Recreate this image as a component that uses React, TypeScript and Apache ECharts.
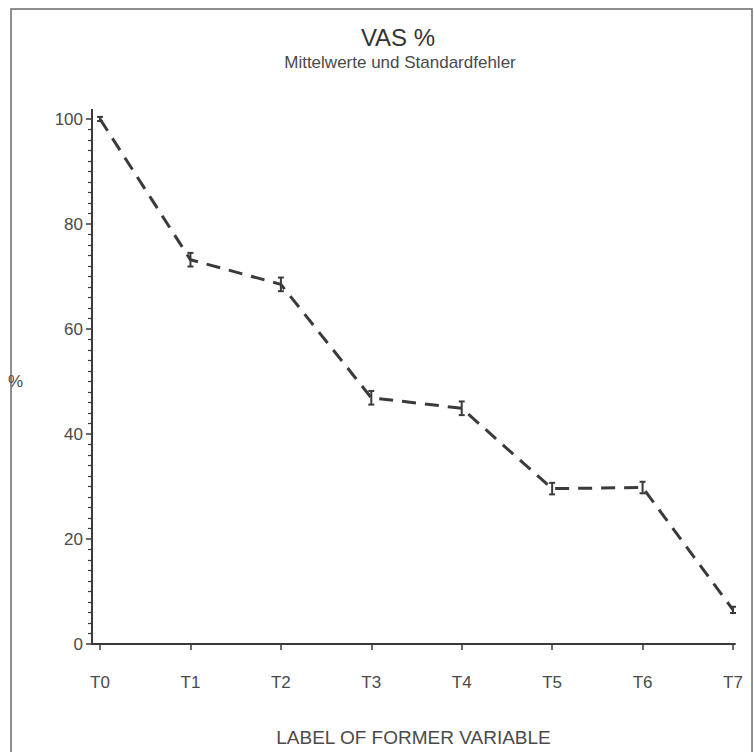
import React, { useEffect, useRef } from "react";
import * as echarts from "echarts";

const categories = ["T0", "T1", "T2", "T3", "T4", "T5", "T6", "T7"];
const positions = [0, 1, 2, 3, 4, 5, 6, 7];
const means = [100, 73.2, 68.5, 46.9, 44.9, 29.6, 29.8, 6.5];
const stdErrors = [0.4, 1.3, 1.3, 1.3, 1.3, 1.1, 1.1, 0.6];
const yTicks = [0, 20, 40, 60, 80, 100];

const FONT = "'Liberation Sans', Arial, sans-serif";
const TEXT = "#4a4a4a";
const INK = "#3a3a3a";
const X_MIN = -0.0885;
const X_MAX = 7.022;

export default function App() {
  const ref = useRef<HTMLDivElement>(null);

  useEffect(() => {
    if (!ref.current) return;
    const chart = echarts.init(ref.current, undefined, { renderer: "svg" });

    const lineData = positions.map((x, i) => [x, means[i]]);
    const errData = positions.map((x, i) => [x, means[i] - stdErrors[i], means[i] + stdErrors[i]]);
    const frame = {
      type: "rect",
      shape: { x: 11, y: 9, width: 741, height: 770 },
      style: { fill: "none", stroke: "#6a6a6a", lineWidth: 1.5 },
      silent: true,
    };

    chart.setOption({
      animation: false,
      backgroundColor: "#ffffff",
      title: [
        {
          text: "VAS %",
          left: 393,
          top: 20,
          textAlign: "center",
          textStyle: { fontFamily: FONT, fontSize: 24, fontWeight: "normal", color: "#333" },
        },
        {
          text: "Mittelwerte und Standardfehler",
          left: 395,
          top: 49,
          textAlign: "center",
          textStyle: { fontFamily: FONT, fontSize: 17, fontWeight: "normal", color: TEXT },
        },
      ],
      grid: { left: 92, right: 19, top: 119, bottom: 98, containLabel: false },
      xAxis: {
        type: "value",
        min: X_MIN,
        max: X_MAX,
        splitLine: { show: false },
        axisLine: { show: true, onZero: false, lineStyle: { color: INK, width: 2 } },
        axisTick: {
          show: true,
          customValues: positions,
          length: 6,
          lineStyle: { color: INK, width: 1.5 },
        },
        axisLabel: {
          customValues: positions,
          formatter: (v: number) => categories[Math.round(v)] ?? "",
          margin: 30,
          fontFamily: FONT,
          fontSize: 17,
          color: TEXT,
        },
        name: "LABEL OF FORMER VARIABLE",
        nameLocation: "middle",
        nameGap: 84,
        nameTextStyle: { fontFamily: FONT, fontSize: 19, color: TEXT },
      },
      yAxis: {
        type: "value",
        min: 0,
        max: 100,
        interval: 20,
        splitLine: { show: false },
        axisLine: { show: true, onZero: false, lineStyle: { color: INK, width: 2 } },
        axisTick: { show: true, length: 6, lineStyle: { color: INK, width: 1.5 } },
        minorTick: { show: true, splitNumber: 10, length: 4, lineStyle: { color: INK, width: 1.2 } },
        axisLabel: {
          margin: 9,
          fontFamily: FONT,
          fontSize: 17,
          color: TEXT,
          formatter: (v: number) => (yTicks.includes(v) ? String(v) : ""),
        },
        name: "%",
        nameLocation: "middle",
        nameRotate: 0,
        nameGap: 69,
        nameTextStyle: { fontFamily: FONT, fontSize: 17, color: TEXT },
      },
      series: [
        {
          type: "line",
          data: lineData,
          symbol: "none",
          lineStyle: { color: INK, width: 3, type: [14, 9] },
          z: 3,
        },
        {
          type: "custom",
          data: errData,
          z: 4,
          renderItem: (params: any, api: any) => {
            const x = api.value(0);
            const lo = api.coord([x, api.value(1)]);
            const hi = api.coord([x, api.value(2)]);
            const style = { stroke: INK, lineWidth: 2 };
            return {
              type: "group",
              children: [
                { type: "line", shape: { x1: lo[0], y1: lo[1], x2: hi[0], y2: hi[1] }, style },
                { type: "line", shape: { x1: hi[0] - 3, y1: hi[1], x2: hi[0] + 3, y2: hi[1] }, style },
                { type: "line", shape: { x1: lo[0] - 3, y1: lo[1], x2: lo[0] + 3, y2: lo[1] }, style },
              ],
            };
          },
        },
      ],
      graphic: [frame],
    });

    // extend the y axis line slightly above the top value, as in the original
    const top = chart.convertToPixel({ gridIndex: 0 }, [X_MIN, 100]) as number[];
    if (top) {
      chart.setOption({
        graphic: [
          frame,
          {
            type: "line",
            shape: { x1: top[0], y1: top[1] - 10, x2: top[0], y2: top[1] },
            style: { stroke: INK, lineWidth: 2 },
            silent: true,
          },
        ],
      });
    }

    return () => chart.dispose();
  }, []);

  return (
    <div
      ref={ref}
      style={{ position: "fixed", left: 0, top: 0, width: 754, height: 752, background: "#fff" }}
    />
  );
}
